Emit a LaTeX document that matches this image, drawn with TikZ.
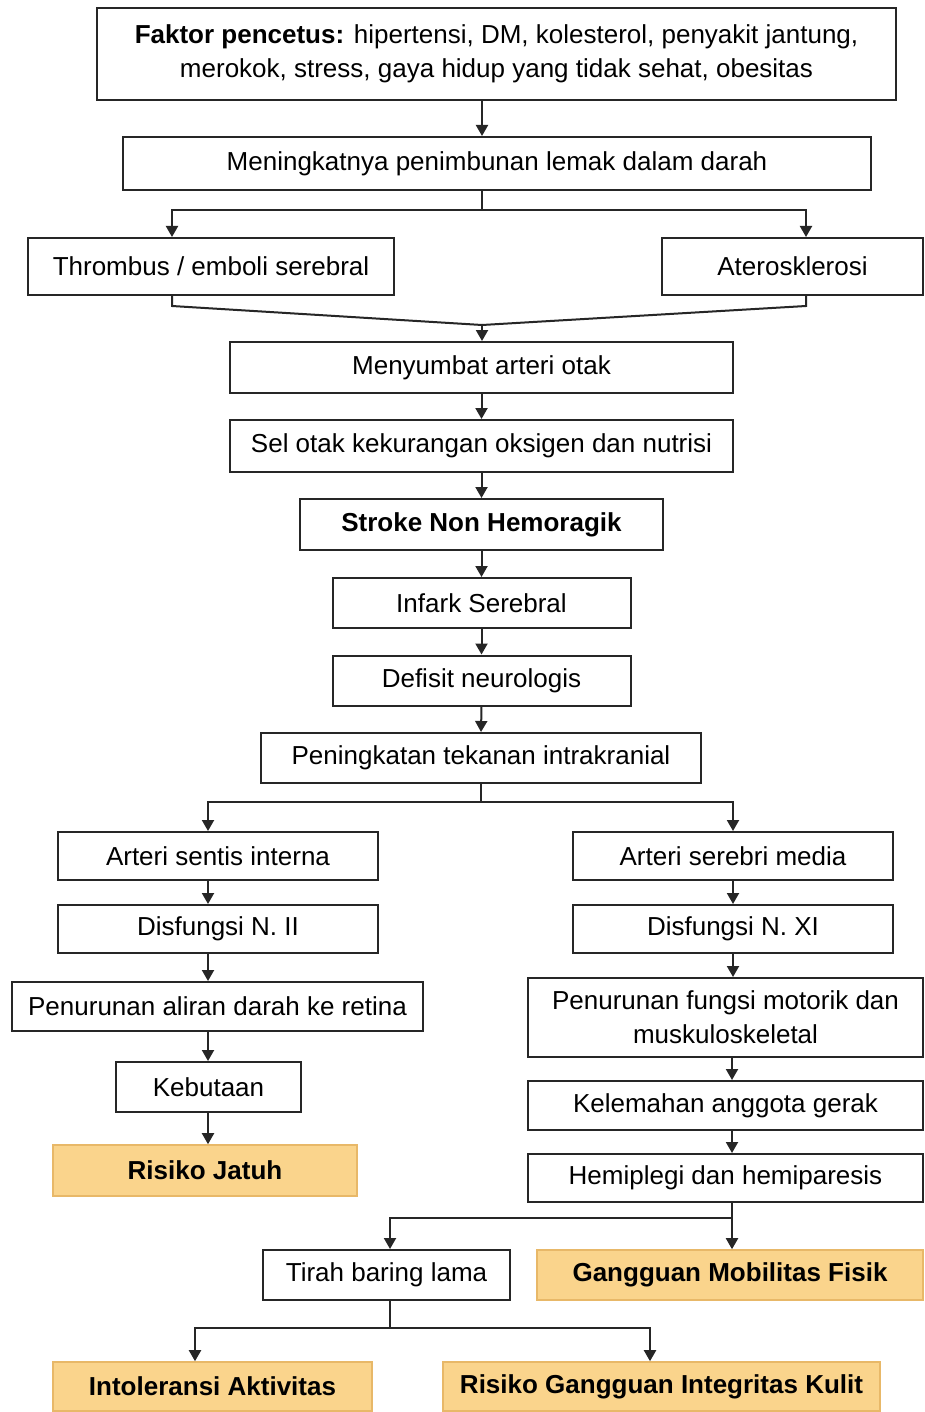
\documentclass[tikz,border=0pt]{standalone}
\usepackage{fontspec}
\setmainfont{Liberation Sans}
\usetikzlibrary{arrows.meta}
\definecolor{riskfill}{RGB}{250,212,140}
\definecolor{riskline}{RGB}{232,184,104}

\begin{document}
\begin{tikzpicture}[
  x=0.5pt,y=-0.5pt,
  every node/.style={font=\fontsize{13}{17}\selectfont},
  box/.style={draw=black!85, line width=1pt, fill=white, align=center, inner sep=2pt},
  bbox/.style={box, font=\fontsize{13}{17}\selectfont\bfseries},
  risk/.style={draw=riskline, line width=0.8pt, fill=riskfill, align=center, inner sep=2pt, font=\fontsize{13}{17}\selectfont\bfseries},
  arrow/.style={-{Triangle[length=5.5pt,width=6pt]}, line width=1pt, draw=black!85},
  link/.style={line width=1pt, draw=black!85}
]
\fill[white] (0,0) rectangle (925,1412);

% top part
\node[box, minimum width=399.5pt, minimum height=46pt] (faktor) at (496.5,54) {\textbf{Faktor pencetus:} hipertensi, DM, kolesterol, penyakit jantung,\\merokok, stress, gaya hidup yang tidak sehat, obesitas};
\node[box, minimum width=374pt, minimum height=26.5pt] (lemak) at (497,163.5) {Meningkatnya penimbunan lemak dalam darah};
\node[box, minimum width=183pt, minimum height=28.5pt] (thrombus) at (211,266.5) {Thrombus / emboli serebral};
\node[box, minimum width=130.5pt, minimum height=28.5pt] (ateros) at (792.5,266.5) {Aterosklerosi};
\node[box, minimum width=251.5pt, minimum height=25.5pt] (sumbat) at (481.5,367.5) {Menyumbat arteri otak};
\node[box, minimum width=251.5pt, minimum height=26pt] (selotak) at (481.5,446) {Sel otak kekurangan oksigen dan nutrisi};
\node[bbox, minimum width=181.5pt, minimum height=25.5pt] (stroke) at (481.5,524.5) {Stroke Non Hemoragik};
\node[box, minimum width=149pt, minimum height=25pt] (infark) at (481.5,603) {Infark Serebral};
\node[box, minimum width=149pt, minimum height=25pt] (defisit) at (481.5,680.5) {Defisit neurologis};
\node[box, minimum width=220pt, minimum height=25pt] (tik) at (481,758) {Peningkatan tekanan intrakranial};

% left branch
\node[box, minimum width=160pt, minimum height=24pt] (sentis) at (218,856) {Arteri sentis interna};
\node[box, minimum width=160pt, minimum height=24pt] (disfdua) at (218,929) {Disfungsi N. II};
\node[box, minimum width=205.5pt, minimum height=24.5pt] (retina) at (217.5,1006.5) {Penurunan aliran darah ke retina};
\node[box, minimum width=92.5pt, minimum height=25pt] (buta) at (208.5,1087) {Kebutaan};
\node[risk, minimum width=152pt, minimum height=25.5pt] (jatuh) at (205,1170.5) {Risiko Jatuh};

% right branch
\node[box, minimum width=160pt, minimum height=24pt] (media) at (733,856) {Arteri serebri media};
\node[box, minimum width=160pt, minimum height=24pt] (disfsebelas) at (733,929) {Disfungsi N. XI};
\node[box, minimum width=197.5pt, minimum height=39.5pt] (motorik) at (725.5,1017.5) {Penurunan fungsi motorik dan\\muskuloskeletal};
\node[box, minimum width=197.5pt, minimum height=24.5pt] (lemah) at (725.5,1105.5) {Kelemahan anggota gerak};
\node[box, minimum width=197.5pt, minimum height=24pt] (hemi) at (725.5,1178) {Hemiplegi dan hemiparesis};
\node[box, minimum width=123.5pt, minimum height=25pt] (tirah) at (386.5,1275) {Tirah baring lama};
\node[risk, minimum width=193pt, minimum height=25pt] (mobilitas) at (730,1275) {Gangguan Mobilitas Fisik};
\node[risk, minimum width=159.5pt, minimum height=24.5pt] (intol) at (212.5,1386.5) {Intoleransi Aktivitas};
\node[risk, minimum width=218.5pt, minimum height=24.5pt] (kulit) at (661.5,1386.5) {Risiko Gangguan Integritas Kulit};

% branch points and columns
\coordinate (splitA) at (482,210);
\coordinate (merge) at (482,325);
\coordinate (tcol) at (172,0);
\coordinate (acol) at (806,0);
\coordinate (splitB) at (481,802);
\coordinate (lcol) at (208,0);
\coordinate (rcol) at (733,0);
\coordinate (splitC) at (732,1218);
\coordinate (tirahcol) at (390,0);
\coordinate (splitD) at (390,1328);
\coordinate (icol) at (195,0);
\coordinate (kcol) at (650,0);

\draw[arrow] (faktor.south -| splitA) -- (lemak.north -| splitA);
\draw[link] (lemak.south -| splitA) -- (splitA);
\draw[arrow] (splitA) -| (thrombus.north -| tcol);
\draw[arrow] (splitA) -| (ateros.north -| acol);
\draw[link] (thrombus.south -| tcol) -- ++(0,10) -- (merge);
\draw[link] (ateros.south -| acol) -- ++(0,10) -- (merge);
\draw[arrow] (merge) -- (sumbat.north -| merge);
\draw[arrow] (sumbat.south) -- (selotak.north);
\draw[arrow] (selotak.south) -- (stroke.north);
\draw[arrow] (stroke.south) -- (infark.north);
\draw[arrow] (infark.south) -- (defisit.north);
\draw[arrow] (defisit.south) -- (tik.north);
\draw[link] (tik.south) -- (splitB);
\draw[arrow] (splitB) -| (sentis.north -| lcol);
\draw[arrow] (splitB) -| (media.north -| rcol);

\draw[arrow] (sentis.south -| lcol) -- (disfdua.north -| lcol);
\draw[arrow] (disfdua.south -| lcol) -- (retina.north -| lcol);
\draw[arrow] (retina.south -| lcol) -- (buta.north -| lcol);
\draw[arrow] (buta.south -| lcol) -- (jatuh.north -| lcol);

\draw[arrow] (media.south -| rcol) -- (disfsebelas.north -| rcol);
\draw[arrow] (disfsebelas.south -| rcol) -- (motorik.north -| rcol);
\draw[arrow] (motorik.south -| splitC) -- (lemah.north -| splitC);
\draw[arrow] (lemah.south -| splitC) -- (hemi.north -| splitC);
\draw[link] (hemi.south -| splitC) -- (splitC);
\draw[arrow] (splitC) -| (tirah.north -| tirahcol);
\draw[arrow] (splitC) -- (mobilitas.north -| splitC);
\draw[link] (tirah.south -| splitD) -- (splitD);
\draw[arrow] (splitD) -| (intol.north -| icol);
\draw[arrow] (splitD) -| (kulit.north -| kcol);
\end{tikzpicture}
\end{document}
